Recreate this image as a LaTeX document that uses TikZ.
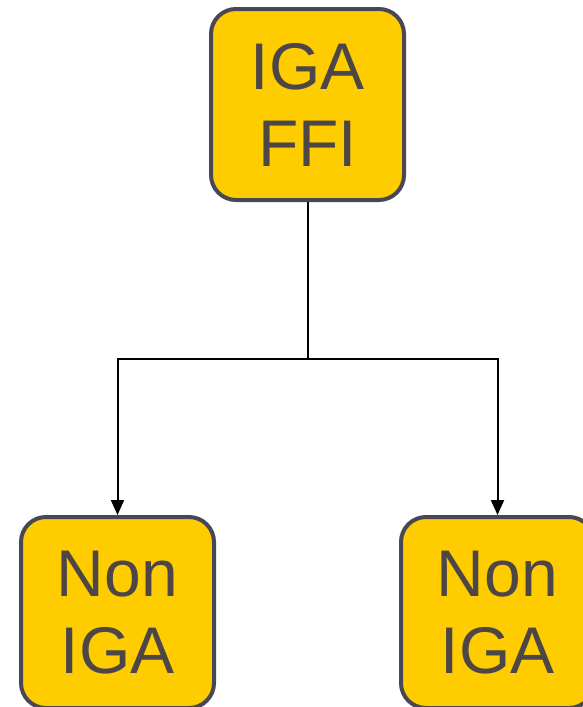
\documentclass[tikz,border=0pt]{standalone}
\usepackage{fontspec}
\setmainfont{Liberation Sans}
\usetikzlibrary{arrows.meta, positioning}

\definecolor{boxfill}{RGB}{255,204,0}
\definecolor{boxline}{RGB}{71,71,86}
\definecolor{boxtext}{RGB}{77,70,70}

\begin{document}
\begin{tikzpicture}[
    x=1pt, y=-1pt,
    node distance=190pt,
    group/.style={
        rectangle, rounded corners=25pt,
        draw=boxline, line width=4pt,
        fill=boxfill, text=boxtext,
        minimum width=193pt, minimum height=191pt,
        inner sep=0pt, align=center,
        font=\fontsize{66}{77}\selectfont
    },
    arrow/.style={
        -{Triangle[width=13pt, length=15pt]}, line width=2pt
    }
]
\clip (0,0) rectangle (583,707);
\useasboundingbox (0,0) rectangle (583,707);

% Parent
\node[group] (ffi) at (307.5,104.5) {IGA\\FFI};

% Children
\node[group, on grid, below left=508pt and 190pt of ffi] (nonleft) {Non\\IGA};
\node[group, on grid, below right=508pt and 190pt of ffi] (nonright) {Non\\IGA};

% Split point
\coordinate (split) at (ffi.south |- 0,359);

% Connectors
\draw[line width=2pt] (ffi.south) -- (split);
\draw[arrow] (split) -| (nonleft.north);
\draw[arrow] (split) -| (nonright.north);

\end{tikzpicture}
\end{document}
